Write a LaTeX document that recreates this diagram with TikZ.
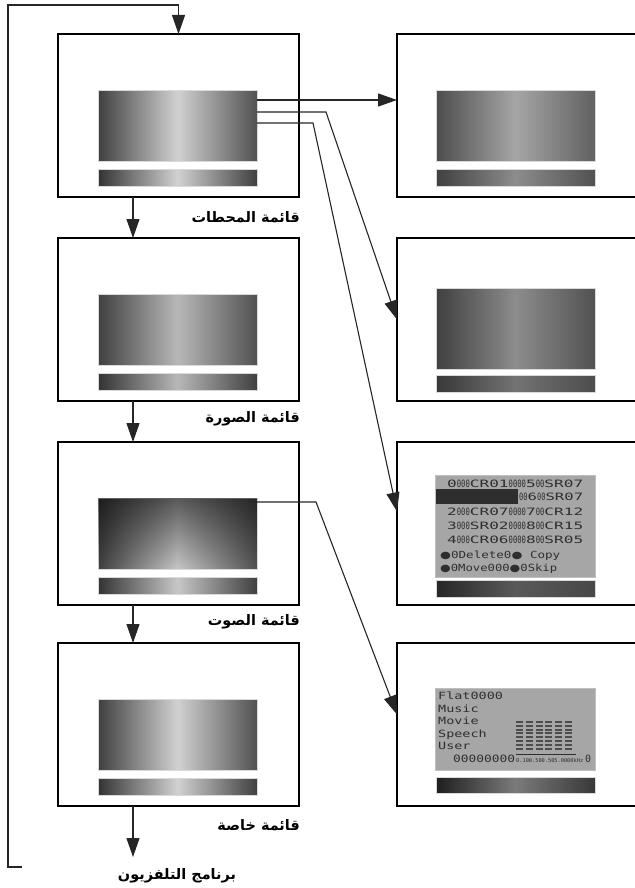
\documentclass[tikz,border=0pt]{standalone}
\usepackage{fontspec}
\usepackage{graphicx}
\usetikzlibrary{arrows.meta,positioning,calc,fadings}
\TeXXeTstate=1
\newfontfamily\arabicfont[Script=Arabic]{DejaVu Sans}
\newfontfamily\lcdfont{DejaVu Sans Mono}
\newfontfamily\dotfont{DejaVu Sans}
\definecolor{lcdback}{HTML}{A6A6A6}
\definecolor{lcdink}{HTML}{2E2E2E}
\newcommand{\sq}[1]{\scalebox{0.45}[1]{#1}}
\newcommand{\lcdrow}[2]{\resizebox{#1bp}{7.5bp}{\lcdfont #2}}
\newcommand{\lcdword}[1]{\scalebox{1.35}[1]{\fontsize{10}{10}\selectfont\lcdfont #1}}
\newcommand{\dotc}{{\dotfont ●}}

\begin{document}
\begin{tikzpicture}[x=1bp,y=-1bp,
  tvframe/.style={draw=black,line width=1.4bp,fill=white,minimum width=241bp,minimum height=163bp,inner sep=0pt,outer sep=0pt,anchor=north west},
  rframe/.style={tvframe,minimum width=250bp},
  screen/.style={anchor=north west,inner sep=0pt,outer sep=0pt,minimum width=159bp,draw=black!15,line width=0.5bp},
  lcdpanel/.style={anchor=north west,inner sep=0pt,minimum width=160bp,fill=lcdback,draw=black!25,line width=0.4bp},
  link/.style={draw=black!85,line width=1.1bp},
  arrowed/.style={-{Triangle[length=19bp,width=13bp]}},
  menulabel/.style={font=\arabicfont\bfseries\fontsize{14.5}{16}\selectfont,inner sep=0pt,anchor=east},
  lcdtext/.style={anchor=base west,inner sep=0pt,text=lcdink}
]
\useasboundingbox (0,0) rectangle (635,888);

% left column
\foreach \i/\y/\g in {1/34/18,2/238/28,3/442/22,4/643/18} {
  \node[tvframe] (menu\i) at (58,\y) {};
  \node[screen,minimum height=71bp,left color=black!75,right color=black!68,middle color=black!\g] (scr\i) at (98,\y+56) {};
  \node[screen,minimum height=17bp,left color=black!80,right color=black!75,middle color=black!\g] (bar\i) at (98,\y+135) {};
}
\fill[black,opacity=0.55,path fading=south] (scr3.north west) rectangle (scr3.south east);

% right column
\foreach \i/\y in {1/34,2/238,3/442,4/643} \node[rframe] (info\i) at (397,\y) {};
\node[screen,minimum height=71bp,left color=black!70,right color=black!62,middle color=black!35] (rscr1) at (436,90) {};
\node[screen,minimum height=17bp,left color=black!75,right color=black!68,middle color=black!45] (rbar1) at (436,169) {};
\node[screen,minimum height=81bp,left color=black!75,right color=black!68,middle color=black!45] (rscr2) at (436,288) {};
\node[screen,minimum height=17bp,left color=black!78,right color=black!70,middle color=black!55] (rbar2) at (436,375) {};
\node[lcdpanel,minimum height=102bp] (lcd3) at (435,475) {};
\node[screen,minimum height=17bp,left color=black!85,right color=black!72,middle color=black!65] (rbar3) at (436,580) {};
\node[lcdpanel,minimum height=82bp] (lcd4) at (435,688) {};
\node[screen,minimum height=16bp,left color=black!88,right color=black!78,middle color=black!52] (rbar4) at (436,777) {};

% channel list
\fill[lcdink] (436,489) rectangle (518,504);
\node[lcdtext] (row1) at (447,487) {\lcdrow{136}{0\sq{000}CR01\sq{0000}5\sq{00}SR07}};
\node[lcdtext] (row2) at (519,500) {\lcdrow{64}{\sq{00}6\sq{00}SR07}};
\node[lcdtext] (row3) at (447,515) {\lcdrow{136}{2\sq{000}CR07\sq{0000}7\sq{00}CR12}};
\node[lcdtext] (row4) at (447,529) {\lcdrow{136}{3\sq{000}SR02\sq{0000}8\sq{00}CR15}};
\node[lcdtext] (row5) at (447,543) {\lcdrow{136}{4\sq{000}CR06\sq{0000}8\sq{00}SR05}};
\node[lcdtext] (row6) at (440,558) {\lcdrow{120}{\dotc0Delete0\dotc{} Copy}};
\node[lcdtext] (row7) at (440,571) {\lcdrow{117}{\dotc0Move000\dotc0Skip}};

% sound modes
\foreach \t/\b in {Flat0000/699.5,Music/712,Movie/724.5,Speech/737,User/749.5}
  \node[lcdtext] (mode\t) at (438,\b) {\lcdword{\t}};
\node[lcdtext] (freq) at (453,762) {\lcdrow{62}{00000000}};
\node[lcdtext] (scale) at (516,762) {\resizebox{67bp}{4bp}{\lcdfont 0.100.500.505.0000kHz}};
\node[lcdtext] (scaleend) at (585,762) {\lcdrow{6}{0}};
\draw[lcdink,line width=0.4bp] (516,754.5) -- (576,754.5);
\foreach \c in {0,...,5} \foreach \r in {0,...,7}
  \fill[lcdink!85] (516+\c*9.8,721+\r*3.8) rectangle +(7,2);

% links
\coordinate (out1) at ($(scr1.north east)+(0,10)$);
\coordinate (out2) at ($(scr1.north east)+(0,22)$);
\coordinate (out3) at ($(scr1.north east)+(0,33)$);
\coordinate (out4) at ($(scr3.north east)+(0,4)$);
\draw[link,arrowed] (out1) -- (out1 -| info1.west);
\draw[link,arrowed] (out2) -- ++(69,0) -- (info2.west);
\draw[link,arrowed] (out3) -- ++(56,0) -- ($(info3.west)+(0,-12)$);
\draw[link,arrowed] (out4) -- ++(59,0) -- ($(info4.west)+(0,-10)$);

\foreach \i/\j in {1/2,2/3,3/4}
  \draw[link,arrowed] ($(menu\i.south west)+(75,0)$) -- ($(menu\j.north west)+(75,0)$);

\node[menulabel] (title1) at ($(menu1.south east)+(1,20)$) {\beginR قائمة المحطات\endR};
\node[menulabel] (title2) at ($(menu2.south east)+(1,18)$) {\beginR قائمة الصورة\endR};
\node[menulabel] (title3) at ($(menu3.south east)+(1,17)$) {\beginR قائمة الصوت\endR};
\node[menulabel] (title4) at ($(menu4.south east)+(1,19)$) {\beginR قائمة خاصة\endR};
\node[menulabel,anchor=center] (tvprog) at (177,876) {\beginR برنامج التلفزيون\endR};

\coordinate (progtip) at (133,857);
\draw[link,arrowed] ($(menu4.south west)+(75,0)$) -- (progtip);
\coordinate (loopstart) at (22,867);
\draw[link,arrowed] (loopstart) -- (8,867) -- (8,5) -| (menu1.north);
\end{tikzpicture}
\end{document}
